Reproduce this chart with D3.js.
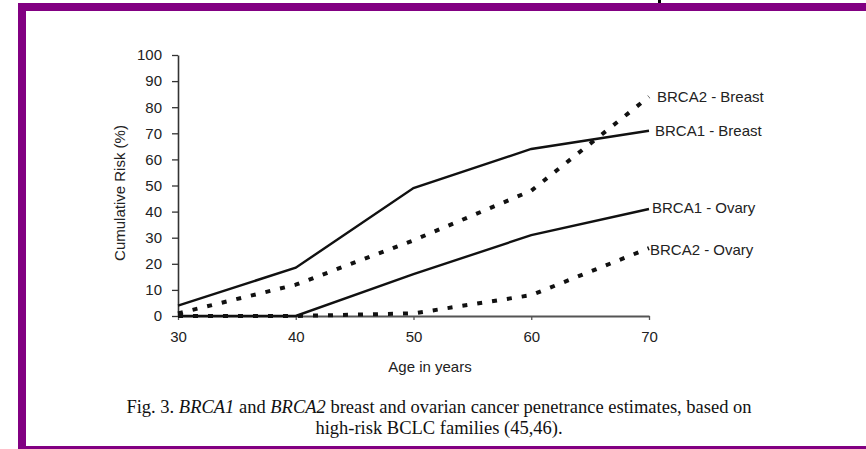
<!DOCTYPE html>
<html><head><meta charset="utf-8">
<script src="https://cdn.jsdelivr.net/npm/d3@7"></script>
<style>html,body{margin:0;padding:0;background:#fff;}svg{display:block;}</style>
</head><body>
<script>
const ages = [30, 40, 50, 60, 70];
const brca1Breast = [4, 18.5, 49, 64, 71];
const brca2Breast = [1, 12, 29, 48, 84];
const brca1Ovary = [0, 0, 16, 31, 41];
const brca2Ovary = [0, 0, 1, 8, 26];
const seriesNames = ["BRCA1 - Breast", "BRCA2 - Breast", "BRCA1 - Ovary", "BRCA2 - Ovary"];
const yTicks = [0,10,20,30,40,50,60,70,80,90,100];
const xTicks = [30,40,50,60,70];

const W = 866, H = 449;
const svg = d3.select("body").append("svg").attr("width", W).attr("height", H);
svg.append("rect").attr("width", W).attr("height", H).attr("fill", "#fff");

// frame
const purple = "#820082";
svg.append("rect").attr("x", 18).attr("y", 3).attr("width", 8).attr("height", H - 3).attr("fill", purple);
svg.append("rect").attr("x", 18).attr("y", 3).attr("width", W - 18).attr("height", 8).attr("fill", purple);
svg.append("rect").attr("x", 18).attr("y", 446).attr("width", W - 18).attr("height", 3).attr("fill", purple);
svg.append("rect").attr("x", 658).attr("y", 0).attr("width", 3).attr("height", 3).attr("fill", "#000");

const x = d3.scaleLinear().domain([30, 70]).range([178, 649]);
const y = d3.scaleLinear().domain([0, 100]).range([316, 55]);

const font = "Liberation Sans, Arial, sans-serif";
const fs = 15;

// y axis
const yAxis = svg.append("g").attr("transform", "translate(178,0)")
  .call(d3.axisLeft(y).tickValues(yTicks).tickSize(6).tickPadding(10).tickSizeOuter(0));
yAxis.select(".domain").attr("stroke", "#333").attr("stroke-width", 1.6);
yAxis.selectAll(".tick line").attr("stroke", "#333").attr("stroke-width", 1.3);
yAxis.selectAll("text").attr("font-family", font).attr("font-size", fs).attr("fill", "#222");

// x axis
const xAxis = svg.append("g").attr("transform", "translate(0,316)")
  .call(d3.axisBottom(x).tickValues(xTicks).tickSize(4).tickPadding(11).tickSizeOuter(0));
xAxis.select(".domain").attr("stroke", "#555").attr("stroke-width", 2.2);
xAxis.selectAll(".tick line").attr("stroke", "#555").attr("stroke-width", 1.3);
xAxis.selectAll("text").attr("font-family", font).attr("font-size", fs).attr("fill", "#222");

svg.append("text").attr("x", 430).attr("y", 372).attr("text-anchor", "middle")
  .attr("font-family", font).attr("font-size", fs).attr("fill", "#222").text("Age in years");
svg.append("text").attr("transform", "translate(125,193) rotate(-90)").attr("text-anchor", "middle")
  .attr("font-family", font).attr("font-size", fs).attr("fill", "#222").text("Cumulative Risk (%)");

const line = d3.line().x((d, i) => x(ages[i])).y(d => y(d));
const series = [
  {name: seriesNames[0], vals: brca1Breast, dotted: false, lx: 655, ly: 131},
  {name: seriesNames[1], vals: brca2Breast, dotted: true, lx: 657, ly: 97},
  {name: seriesNames[2], vals: brca1Ovary, dotted: false, lx: 652, ly: 208},
  {name: seriesNames[3], vals: brca2Ovary, dotted: true, lx: 650, ly: 250}
];
series.forEach(s => {
  svg.append("path").attr("d", line(s.vals)).attr("fill", "none").attr("stroke", "#111")
    .attr("stroke-width", s.dotted ? 4 : 2.4)
    .attr("stroke-dasharray", s.dotted ? "5,10" : null);
  svg.append("text").attr("x", s.lx).attr("y", s.ly).attr("dy", "0.35em")
    .attr("font-family", font).attr("font-size", fs).attr("fill", "#222").text(s.name);
});

// caption
const cap = svg.append("text").attr("text-anchor", "middle")
  .attr("font-family", "Liberation Serif, Times New Roman, serif").attr("font-size", 18.5).attr("fill", "#111");
const l1 = cap.append("tspan").attr("x", 439).attr("y", 413);
l1.append("tspan").text("Fig. 3. ");
l1.append("tspan").attr("font-style", "italic").text("BRCA1");
l1.append("tspan").text(" and ");
l1.append("tspan").attr("font-style", "italic").text("BRCA2");
l1.append("tspan").text(" breast and ovarian cancer penetrance estimates, based on");
cap.append("tspan").attr("x", 439).attr("y", 434).text("high-risk BCLC families (45,46).");
</script>
</body></html>
